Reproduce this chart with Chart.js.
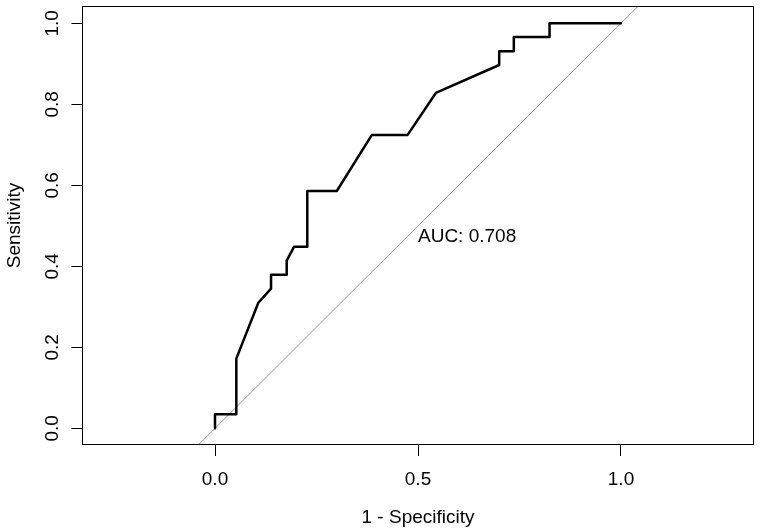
<!DOCTYPE html>
<html>
<head>
<meta charset="utf-8">
<script src="https://cdn.jsdelivr.net/npm/chart.js@4/dist/chart.umd.min.js"></script>
<style>
  html, body { margin: 0; padding: 0; background: #ffffff; }
  #wrap { width: 760px; height: 532px; }
</style>
</head>
<body>
<div id="wrap"><canvas id="c" width="760" height="532"></canvas></div>
<script>
// ROC curve points (1 - Specificity, Sensitivity)
const fpr = [0, 0, 0.0525, 0.0525, 0.1067, 0.138, 0.138, 0.1766, 0.1766, 0.1946, 0.2273, 0.2273, 0.300, 0.386, 0.474, 0.544, 0.700, 0.700, 0.736, 0.736, 0.824, 0.824, 1.0];
const tpr = [0, 0.0345, 0.0345, 0.172, 0.310, 0.345, 0.379, 0.379, 0.414, 0.448, 0.448, 0.586, 0.586, 0.724, 0.724, 0.828, 0.897, 0.931, 0.931, 0.966, 0.966, 1.0, 1.0];
// chance (identity) line endpoints
const refX = [-0.5, 1.5];
const refY = [-0.5, 1.5];
// tick labels
const xTicks = [0, 0.5, 1.0];
const yTicks = [0, 0.2, 0.4, 0.6, 0.8, 1.0];
const xTitle = '1 - Specificity';
const yTitle = 'Sensitivity';
const aucLabel = 'AUC: 0.708';
const aucPos = [0.5, 0.46];

const FONT = '"Liberation Sans", Arial, sans-serif';

const rocData = fpr.map((x, i) => ({ x: x, y: tpr[i] }));
const refData = refX.map((x, i) => ({ x: x, y: refY[i] }));

const textPlugin = {
  id: 'rtext',
  afterDraw(chart) {
    const ctx = chart.ctx;
    const ca = chart.chartArea;
    const xs = chart.scales.x, ys = chart.scales.y;
    ctx.save();
    // box
    ctx.strokeStyle = '#000';
    ctx.lineWidth = 1;
    ctx.strokeRect(ca.left + 0.5, ca.top + 0.5, ca.right - ca.left - 1, ca.bottom - ca.top - 1);
    ctx.fillStyle = '#000';
    ctx.font = '19px ' + FONT;
    // y tick labels (rotated)
    yTicks.forEach(v => {
      const py = ys.getPixelForValue(v);
      ctx.save();
      ctx.translate(58, py);
      ctx.rotate(-Math.PI / 2);
      ctx.textAlign = 'center';
      ctx.textBaseline = 'alphabetic';
      ctx.fillText(v.toFixed(1), 0, 0);
      ctx.restore();
    });
    // y title
    ctx.save();
    ctx.translate(19.5, (ca.top + ca.bottom) / 2);
    ctx.rotate(-Math.PI / 2);
    ctx.textAlign = 'center';
    ctx.textBaseline = 'alphabetic';
    ctx.fillText(yTitle, 0, 0);
    ctx.restore();
    // x title
    ctx.textAlign = 'center';
    ctx.textBaseline = 'alphabetic';
    ctx.fillText(xTitle, (ca.left + ca.right) / 2, 522.5);
    // AUC label
    ctx.textAlign = 'left';
    ctx.fillText(aucLabel, xs.getPixelForValue(aucPos[0]), ys.getPixelForValue(aucPos[1]));
    ctx.restore();
  }
};

new Chart(document.getElementById('c'), {
  type: 'scatter',
  data: {
    datasets: [
      {
        label: 'ROC',
        data: rocData,
        showLine: true,
        borderColor: '#000000',
        borderWidth: 2.5,
        pointRadius: 0,
        tension: 0,
        borderJoinStyle: 'round',
        borderCapStyle: 'round',
        fill: false
      },
      {
        label: 'identity',
        data: refData,
        showLine: true,
        borderColor: '#999999',
        borderWidth: 1,
        pointRadius: 0,
        tension: 0,
        fill: false,
        clip: 0
      }
    ]
  },
  options: {
    responsive: false,
    animation: false,
    devicePixelRatio: 1,
    layout: { padding: { top: 6, right: 6, left: 0, bottom: 0 } },
    plugins: {
      legend: { display: false },
      tooltip: { enabled: false },
      title: { display: false }
    },
    scales: {
      x: {
        type: 'linear',
        min: -0.3276,
        max: 1.3276,
        afterFit(scale) { scale.height = 87; },
        afterBuildTicks(scale) { scale.ticks = xTicks.map(v => ({ value: v })); },
        grid: { drawOnChartArea: false, drawTicks: true, tickLength: 11, color: '#000000', lineWidth: 1 },
        border: { display: false },
        ticks: {
          color: '#000000',
          font: { family: FONT, size: 19 },
          padding: 12.5,
          maxRotation: 0,
          autoSkip: false,
          callback: v => Number(v).toFixed(1)
        }
      },
      y: {
        type: 'linear',
        min: -0.0412,
        max: 1.0427,
        afterFit(scale) { scale.width = 82; },
        afterBuildTicks(scale) { scale.ticks = yTicks.map(v => ({ value: v })); },
        grid: { drawOnChartArea: false, drawTicks: true, tickLength: 10.5, color: '#000000', lineWidth: 1 },
        border: { display: false },
        ticks: { display: false }
      }
    }
  },
  plugins: [textPlugin]
});
</script>
</body>
</html>
